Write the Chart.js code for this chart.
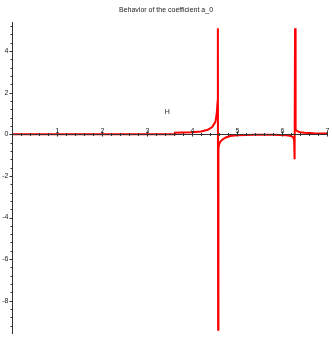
<!DOCTYPE html>
<html lang="en">
<head>
    <meta charset="UTF-8">
    <title>Behavior of the coefficient a_0</title>
    <script src="https://cdn.jsdelivr.net/npm/chart.js@4.4.1/dist/chart.umd.min.js"></script>
    <style>
        body { margin: 0; background: #ffffff; }
        .wrap { position: relative; width: 332px; height: 341px; }
    </style>
</head>
<body>
    <div class="wrap">
        <canvas id="plot"></canvas>
    </div>

    <script>
        // curve values
        const xValues = [0, 1, 2, 3, 3.6, 3.62, 4.0, 4.2, 4.35, 4.45, 4.52, 4.55, 4.57, 4.575, 4.58, 4.585, 4.59, 4.6, 4.63, 4.68, 4.75, 4.85, 5.0, 5.4, 5.8, 6.1, 6.2, 6.25, 6.27, 6.28, 6.29, 6.295, 6.31, 6.34, 6.4, 6.5, 6.7, 7.0];
        const yValues = [0, 0, 0, 0, 0, 0.08, 0.1, 0.14, 0.22, 0.35, 0.6, 1.0, 1.6, 5.1, -9.4, -0.9, -0.7, -0.5, -0.35, -0.25, -0.15, -0.08, -0.04, -0.02, -0.02, -0.04, -0.08, -0.15, -0.3, -1.2, 5.1, 0.3, 0.22, 0.15, 0.1, 0.07, 0.05, 0.04];

        const xTicks = [1, 2, 3, 4, 5, 6, 7];
        const yTicks = [-8, -6, -4, -2, 0, 2, 4];
        const titleText = 'Behavior of the coefficient a_0';
        const markText = 'H';

        const points = xValues.map((x, i) => ({ x: x, y: yValues[i] }));

        // Maple style axes crossing at the origin
        const mapleAxes = {
            id: 'mapleAxes',
            afterDatasetsDraw(chart) {
                const ctx = chart.ctx;
                const sx = chart.scales.x;
                const sy = chart.scales.y;
                const x0 = Math.round(sx.getPixelForValue(0)) + 0.5;
                const y0 = Math.round(sy.getPixelForValue(0)) + 0.5;

                ctx.save();
                ctx.strokeStyle = '#333333';
                ctx.lineWidth = 1;
                ctx.beginPath();
                ctx.moveTo(sx.getPixelForValue(sx.min), y0);
                ctx.lineTo(sx.getPixelForValue(sx.max), y0);
                ctx.moveTo(x0, sy.getPixelForValue(sy.max));
                ctx.lineTo(x0, sy.getPixelForValue(sy.min));

                // x ticks, minor every 0.2
                for (let v = 0.2; v <= sx.max + 0.001; v += 0.2) {
                    const px = Math.round(sx.getPixelForValue(v)) + 0.5;
                    const major = Math.abs(v - Math.round(v)) < 0.01;
                    ctx.moveTo(px, y0 - (major ? 3 : 1.5));
                    ctx.lineTo(px, y0 + (major ? 2 : 1.5));
                }
                // y ticks, minor every 0.4
                for (let v = Math.ceil(sy.min / 0.4) * 0.4; v <= sy.max; v += 0.4) {
                    const py = Math.round(sy.getPixelForValue(v)) + 0.5;
                    const major = Math.abs(v / 2 - Math.round(v / 2)) < 0.01;
                    ctx.moveTo(x0 - (major ? 3 : 2), py);
                    ctx.lineTo(x0, py);
                }
                ctx.stroke();

                ctx.fillStyle = '#222222';
                ctx.font = '7px "Liberation Sans", Arial, sans-serif';
                ctx.textAlign = 'center';
                ctx.textBaseline = 'alphabetic';
                xTicks.forEach(v => {
                    ctx.fillText(String(v), sx.getPixelForValue(v) + 0.5, y0 - 2);
                });
                ctx.textAlign = 'right';
                ctx.textBaseline = 'middle';
                yTicks.forEach(v => {
                    ctx.fillText(String(v), x0 - 4, sy.getPixelForValue(v));
                });

                ctx.textAlign = 'center';
                ctx.fillText(markText, sx.getPixelForValue(3.45), sy.getPixelForValue(1.05));

                ctx.font = '7px "Liberation Sans Narrow", "Liberation Sans", sans-serif';
                ctx.fillText(titleText, chart.width / 2, 10);
                ctx.restore();
            }
        };

        const ctx = document.getElementById('plot').getContext('2d');
        new Chart(ctx, {
            type: 'scatter',
            data: {
                datasets: [{
                    label: 'a_0',
                    data: points,
                    showLine: true,
                    borderColor: '#ff0000',
                    borderWidth: 2,
                    pointRadius: 0,
                    tension: 0
                }]
            },
            options: {
                responsive: true,
                maintainAspectRatio: false,
                animation: false,
                layout: { padding: { left: 12, right: 5, top: 22, bottom: 7 } },
                plugins: {
                    legend: { display: false },
                    tooltip: { enabled: false }
                },
                scales: {
                    x: { type: 'linear', min: 0, max: 7, display: false },
                    y: { type: 'linear', min: -9.6, max: 5.4, display: false }
                }
            },
            plugins: [mapleAxes]
        });
    </script>
</body>
</html>
